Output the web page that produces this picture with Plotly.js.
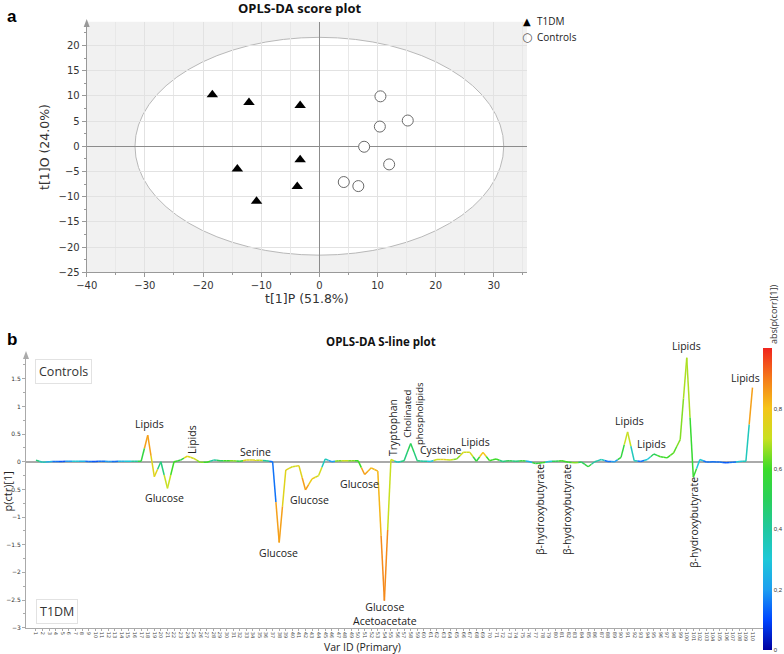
<!DOCTYPE html>
<html><head><meta charset="utf-8">
<script src="https://cdn.plot.ly/plotly-3.0.1.min.js"></script>
<style>html,body{margin:0;padding:0;background:#fff}#chart{width:784px;height:654px}</style>
</head><body><div id="chart"></div>
<script>
// ---------- Score plot data ----------
const t1dmX = [-18.4, -12.1, -3.3, -14.1, -3.3, -3.8, -10.8];
const t1dmY = [10.2, 8.7, 8.1, -4.5, -2.7, -8.0, -10.9];
const ctrlX = [10.5, 10.4, 15.2, 7.7, 12.0, 4.2, 6.7];
const ctrlY = [9.9, 3.9, 5.1, -0.1, -3.6, -7.1, -7.9];
const ellipseSemiAxes = [31.7, 21.6];
const groupNames = ['T1DM', 'Controls'];

// ---------- S-line data ----------
const varIds = Array.from({length: 110}, (_, i) => i + 1);
const pctr = [
  0.03, -0.01, 0.0, 0.005, 0.005, 0.01, 0.01, 0.01, 0.005, 0.005,
  0.01, 0.005, 0.005, 0.01, 0.01, 0.01, 0.01, 0.48, -0.27, 0.0,
  -0.48, 0.0, 0.03, 0.10, 0.06, -0.01, -0.01, 0.03, 0.02, 0.02,
  0.02, 0.01, 0.03, 0.03, 0.025, 0.02, 0.0, -1.46, -0.15, -0.09,
  -0.07, -0.51, -0.31, -0.25, 0.05, 0.0, 0.02, 0.02, 0.02, 0.02,
  -0.23, -0.11, -0.17, -2.51, 0.04, -0.01, 0.02, 0.33, 0.02, 0.01,
  0.005, 0.04, 0.04, 0.03, 0.05, 0.17, 0.17, 0.01, 0.17, 0.02,
  0.05, 0.005, 0.02, 0.01, 0.02, 0.005, -0.03, -0.02, 0.005, 0.01,
  0.02, -0.01, -0.02, -0.005, -0.09, 0.0, 0.04, 0.005, 0.0, 0.08,
  0.54, 0.02, 0.005, 0.04, 0.14, 0.09, 0.07, 0.16, 0.40, 1.88,
  -0.28, 0.04, -0.005, 0.0, -0.005, -0.02, -0.01, 0.005, 0.01, 1.34
];
const pcorrAbs = [
  0.45, 0.35, 0.25, 0.15, 0.12, 0.20, 0.30, 0.25, 0.15, 0.12,
  0.15, 0.20, 0.15, 0.25, 0.30, 0.40, 0.55, 0.85, 0.75, 0.45,
  0.70, 0.60, 0.55, 0.75, 0.72, 0.65, 0.60, 0.40, 0.50, 0.60,
  0.65, 0.55, 0.75, 0.75, 0.70, 0.40, 0.15, 0.85, 0.75, 0.72,
  0.75, 0.85, 0.78, 0.72, 0.35, 0.20, 0.65, 0.70, 0.65, 0.60,
  0.85, 0.82, 0.82, 0.88, 0.70, 0.35, 0.45, 0.50, 0.45, 0.40,
  0.30, 0.70, 0.75, 0.70, 0.65, 0.72, 0.72, 0.55, 0.80, 0.60,
  0.60, 0.45, 0.50, 0.45, 0.55, 0.25, 0.55, 0.60, 0.30, 0.50,
  0.60, 0.60, 0.65, 0.50, 0.55, 0.40, 0.35, 0.15, 0.20, 0.55,
  0.70, 0.35, 0.15, 0.30, 0.50, 0.60, 0.60, 0.62, 0.65, 0.68,
  0.58, 0.30, 0.15, 0.15, 0.15, 0.12, 0.15, 0.30, 0.35, 0.85
];
const cbTickVals = [0, 0.2, 0.4, 0.6, 0.8];
const cbTickText = ['0', '0,2', '0,4', '0,6', '0,8'];

const cscale = [[0,'#0000a0'],[0.1,'#0046ff'],[0.2,'#1e9ef0'],[0.3,'#1ec8d8'],[0.4,'#20c8a0'],
  [0.5,'#2ad05a'],[0.6,'#3cdc28'],[0.7,'#c8e020'],[0.8,'#f5c518'],[0.9,'#f57a1a'],[1,'#f0241e']];
function hexToRgb(h){return [parseInt(h.slice(1,3),16),parseInt(h.slice(3,5),16),parseInt(h.slice(5,7),16)];}
function colorAt(v){
  for (let i=1;i<cscale.length;i++){
    if (v<=cscale[i][0]){
      const a=cscale[i-1][0], b=cscale[i][0];
      const A=hexToRgb(cscale[i-1][1]), B=hexToRgb(cscale[i][1]);
      const t=(v-a)/(b-a);
      return 'rgb('+A.map((x,k)=>Math.round(x+(B[k]-x)*t)).join(',')+')';
    }
  }
  return cscale[cscale.length-1][1];
}

const W=784, H=654;
const px=v=>v/W, py=v=>1-v/H;
const FONT='Open Sans, Noto Sans, sans-serif';
const TFONT='DejaVu Sans, sans-serif';

const traces=[];
traces.push({type:'scatter',mode:'markers',x:t1dmX,y:t1dmY,name:groupNames[0],xaxis:'x',yaxis:'y',showlegend:false,
  marker:{symbol:'triangle-up',size:10,color:'#000'}});
traces.push({type:'scatter',mode:'markers',x:ctrlX,y:ctrlY,name:groupNames[1],xaxis:'x',yaxis:'y',showlegend:false,
  marker:{symbol:'circle',size:11,color:'#fff',line:{color:'#6a6a6a',width:1}}});

for (let i=0;i<varIds.length-1;i++){
  const x0=varIds[i], x1=varIds[i+1], y0=pctr[i], y1=pctr[i+1];
  const xm=(x0+x1)/2, ym=(y0+y1)/2;
  traces.push({type:'scatter',mode:'lines',x:[x0,xm],y:[y0,ym],xaxis:'x2',yaxis:'y2',showlegend:false,
    hoverinfo:'skip',line:{color:colorAt(pcorrAbs[i]),width:1.5}});
  traces.push({type:'scatter',mode:'lines',x:[xm,x1],y:[ym,y1],xaxis:'x2',yaxis:'y2',showlegend:false,
    hoverinfo:'skip',line:{color:colorAt(pcorrAbs[i+1]),width:1.5}});
}
traces.push({type:'scatter',mode:'markers',x:[varIds[0]],y:[0],xaxis:'x2',yaxis:'y2',showlegend:false,hoverinfo:'skip',
  marker:{color:[0.5],cmin:0,cmax:1,colorscale:cscale,opacity:0,size:1,showscale:true,
    colorbar:{x:px(763),xanchor:'left',xpad:0,ypad:0,y:py(650),yanchor:'bottom',lenmode:'pixels',len:302,
      thicknessmode:'pixels',thickness:9,outlinewidth:0,tickmode:'array',tickvals:cbTickVals,ticktext:cbTickText,
      ticks:'',ticklabelpad:1,tickfont:{size:6,family:'Liberation Sans Narrow, Liberation Sans, sans-serif',color:'#333'}}}});

const ann=[];
function A(text,x,y,o){ann.push(Object.assign({text:text,x:px(x),y:py(y),xref:'paper',yref:'paper',showarrow:false,
  font:{family:FONT,size:10.5,color:'#222'},xanchor:'center',yanchor:'middle'},o||{}));}
A('<b>a</b>',12,17,{font:{family:'Liberation Sans, Arial, sans-serif',size:17,color:'#000'}});
A('<b>b</b>',12,339,{font:{family:'Liberation Sans, Arial, sans-serif',size:17,color:'#000'}});
A('<b>OPLS-DA score plot</b>',300,8,{font:{family:FONT,size:13,color:'#111'}});
A('<b>OPLS-DA S-line plot</b>',381,341,{font:{family:FONT,size:11.5,color:'#111'}});
A('Var ID (Primary)',362,647,{font:{family:FONT,size:10.5,color:'#222'}});
A('abs(p(corr)[1])',773,315,{textangle:-90,font:{family:FONT,size:9,color:'#333'}});
// custom legend for score plot
A('▲',527,21,{font:{family:TFONT,size:10,color:'#000'}});
A(groupNames[0],535,21,{xanchor:'left',font:{family:FONT,size:10,color:'#222'}});
A('○',527,37,{font:{family:TFONT,size:12,color:'#555'}});
A(groupNames[1],535,37,{xanchor:'left',font:{family:FONT,size:10,color:'#222'}});

A('Controls',64,371,{font:{family:FONT,size:12.5,color:'#333'},bordercolor:'#e2e2e2',borderwidth:1,borderpad:3});
A('T1DM',57,611,{font:{family:FONT,size:12.5,color:'#333'},bordercolor:'#e2e2e2',borderwidth:1,borderpad:3});
A('Lipids',149,424); A('Glucose',164,498); A('Lipids',192,440,{textangle:-90});
A('Serine',255,452); A('Glucose',278,553); A('Glucose',309,500); A('Glucose',359,484);
A('Glucose<br>Acetoacetate',385,614);
A('Tryptophan',393,428,{textangle:-90});
A('Cholinated<br>phospholipids',413,414,{textangle:-90,font:{family:FONT,size:9.5,color:'#222'}});
A('Cysteine',441,450); A('Lipids',476,442);
A('β-hydroxybutyrate',540,510,{textangle:-90}); A('β-hydroxybutyrate',567,510,{textangle:-90});
A('Lipids',629,421); A('Lipids',651,444); A('Lipids',686,346);
A('β-hydroxybutyrate',694,523,{textangle:-90}); A('Lipids',745,378);

function tri(cx,top){return 'M '+px(cx-3)+','+py(top+8)+' L '+px(cx+3)+','+py(top+8)+' L '+px(cx)+','+py(top)+' Z';}
const shapes=[
  {type:'rect',xref:'x domain',yref:'y domain',x0:0,x1:1,y0:0,y1:1,fillcolor:'#f1f1f1',line:{width:0},layer:'below'},
  {type:'circle',xref:'x',yref:'y',x0:-ellipseSemiAxes[0],x1:ellipseSemiAxes[0],y0:-ellipseSemiAxes[1],y1:ellipseSemiAxes[1],
    fillcolor:'#ffffff',line:{color:'#b8b8b8',width:1},layer:'below'},
  {type:'path',xref:'paper',yref:'paper',path:tri(86.7,19),fillcolor:'#999',line:{width:0}},
  {type:'path',xref:'paper',yref:'paper',path:tri(26,351),fillcolor:'#aaa',line:{width:0}}
];

const layout={
  width:W,height:H,margin:{l:0,r:0,t:0,b:0},paper_bgcolor:'#fff',plot_bgcolor:'rgba(0,0,0,0)',
  showlegend:false,
  xaxis:{domain:[px(86.7),px(527)],range:[-40,35.7],anchor:'y',dtick:10,tick0:0,ticks:'outside',ticklen:4,tickcolor:'#999',
    showline:true,linecolor:'#999',showgrid:true,gridcolor:'#e2e2e2',zeroline:true,zerolinecolor:'#8c8c8c',zerolinewidth:1,
    tickfont:{family:TFONT,size:10,color:'#333'},
    minor:{dtick:5,ticks:'outside',ticklen:2,tickcolor:'#999',showgrid:true,gridcolor:'#e8e8e8'},
    title:{text:'t[1]P (51.8%)',font:{family:TFONT,size:12.5,color:'#333'},standoff:2}},
  yaxis:{domain:[py(272.3),py(21.7)],range:[-25,24.7],anchor:'x',dtick:5,tick0:0,ticks:'outside',ticklen:4,tickcolor:'#999',
    showline:true,linecolor:'#999',showgrid:true,gridcolor:'#e2e2e2',zeroline:true,zerolinecolor:'#8c8c8c',zerolinewidth:1,
    tickfont:{family:TFONT,size:10,color:'#333'},
    minor:{dtick:2.5,ticks:'outside',ticklen:2,tickcolor:'#999'},
    title:{text:'t[1]O (24.0%)',font:{family:TFONT,size:12.5,color:'#333'},standoff:6}},
  xaxis2:{domain:[px(26),px(763)],range:[-0.52,111.6],anchor:'y2',tickmode:'array',tickvals:varIds,ticktext:varIds.map(String),
    tickangle:90,tickfont:{family:TFONT,size:5,color:'#444'},ticks:'outside',ticklen:2,tickcolor:'#aaa',
    showline:true,linecolor:'#aaa',showgrid:false,zeroline:false},
  yaxis2:{domain:[py(627.7),py(355)],range:[-3,1.93],anchor:'x2',dtick:0.5,tick0:0,ticks:'outside',ticklen:3,tickcolor:'#aaa',
    showline:true,linecolor:'#aaa',showgrid:false,zeroline:true,zerolinecolor:'#aaa',zerolinewidth:1.5,
    tickfont:{family:TFONT,size:6,color:'#333'},minor:{dtick:0.25,ticks:'outside',ticklen:2,tickcolor:'#aaa'},
    title:{text:'p(ctr)[1]',font:{family:FONT,size:11,color:'#222'},standoff:2}},
  annotations:ann,shapes:shapes
};
Plotly.newPlot('chart',traces,layout,{displayModeBar:false,staticPlot:true});
</script></body></html>
